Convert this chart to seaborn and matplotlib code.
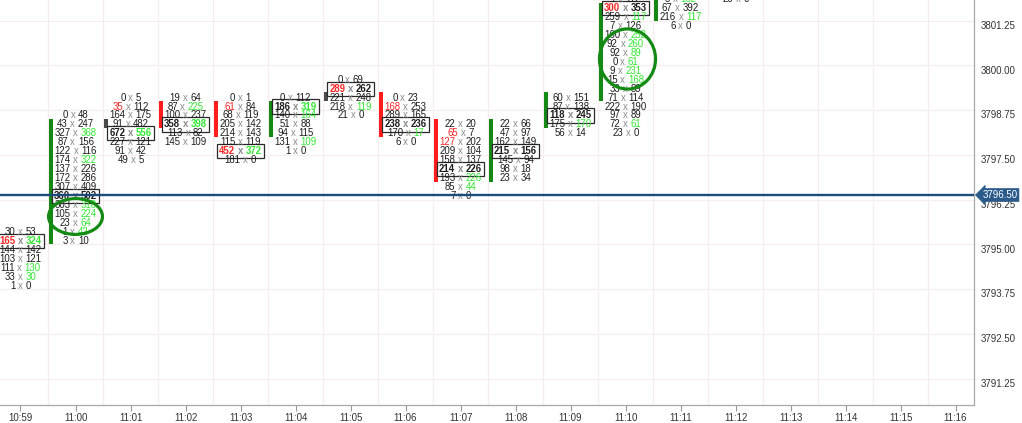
import numpy as np
import matplotlib
matplotlib.use('Agg')
import matplotlib.pyplot as plt
from matplotlib.patches import Ellipse
from matplotlib.font_manager import FontProperties
import seaborn as sns

times = ['10:59', '11:00', '11:01', '11:02', '11:03', '11:04', '11:05', '11:06', '11:07',
         '11:08', '11:09', '11:10', '11:11', '11:12', '11:13', '11:14', '11:15', '11:16']

# footprint cells, top price of each bar then bid / ask volume from the top row down
top_1059 = 3795.50
bid_1059 = [30, 165, 144, 103, 111, 33, 1]
ask_1059 = [53, 324, 142, 121, 130, 30, 0]

top_1100 = 3798.75
bid_1100 = [0, 43, 327, 87, 122, 174, 137, 172, 307, 360, 303, 105, 23, 1, 3]
ask_1100 = [48, 247, 368, 156, 116, 322, 226, 286, 409, 502, 318, 224, 64, 42, 10]

top_1101 = 3799.25
bid_1101 = [0, 35, 164, 91, 672, 227, 91, 49]
ask_1101 = [5, 112, 175, 482, 556, 121, 42, 5]

top_1102 = 3799.25
bid_1102 = [19, 87, 100, 358, 113, 145]
ask_1102 = [64, 225, 237, 398, 82, 109]

top_1103 = 3799.25
bid_1103 = [0, 61, 68, 205, 214, 115, 452, 181]
ask_1103 = [1, 84, 119, 142, 143, 119, 372, 0]

top_1104 = 3799.25
bid_1104 = [0, 186, 140, 51, 94, 131, 1]
ask_1104 = [112, 319, 164, 88, 115, 109, 0]

top_1105 = 3799.75
bid_1105 = [0, 289, 221, 218, 21]
ask_1105 = [69, 262, 248, 119, 0]

top_1106 = 3799.25
bid_1106 = [0, 168, 289, 238, 170, 6]
ask_1106 = [23, 253, 165, 236, 17, 0]

top_1107 = 3798.50
bid_1107 = [22, 65, 127, 209, 158, 214, 193, 85, 7]
ask_1107 = [20, 7, 202, 104, 137, 226, 226, 44, 0]

top_1108 = 3798.50
bid_1108 = [22, 47, 162, 215, 145, 98, 23]
ask_1108 = [66, 97, 149, 156, 94, 18, 34]

top_1109 = 3799.25
bid_1109 = [60, 87, 118, 175, 56]
ask_1109 = [151, 138, 245, 170, 14]

top_1110 = 3802.00
bid_1110 = [4, 300, 259, 7, 160, 92, 92, 0, 9, 15, 33, 71, 222, 97, 72, 23]
ask_1110 = [112, 353, 117, 126, 252, 260, 89, 61, 231, 168, 89, 114, 190, 89, 61, 0]

top_1111 = 3802.00
bid_1111 = [8, 67, 216, 6]
ask_1111 = [162, 392, 117, 0]

top_1112 = 3802.00
bid_1112 = [20]
ask_1112 = [0]

# point of control (boxed row) per bar
poc_price = [3795.25, 3796.50, 3798.25, 3798.50, 3797.75, 3799.00, 3799.50,
             3798.50, 3797.25, 3797.75, 3798.75, 3801.75, np.nan, np.nan]

# candle bodies drawn on the left edge of each column
bar_open = [np.nan, 3795.25, 3798.50, 3799.00, 3799.00, 3798.25, 3799.25,
            3799.25, 3798.50, 3797.00, 3798.50, 3799.25, 3801.50, np.nan]
bar_close = [np.nan, 3798.50, 3798.50, 3798.50, 3798.25, 3799.00, 3799.25,
             3798.25, 3797.00, 3798.50, 3799.25, 3801.75, 3802.50, np.nan]

last_price = 3796.50
price_ticks = [3791.25, 3792.50, 3793.75, 3795.00, 3796.25, 3797.50, 3798.75, 3800.00, 3801.25]

tops = [top_1059, top_1100, top_1101, top_1102, top_1103, top_1104, top_1105,
        top_1106, top_1107, top_1108, top_1109, top_1110, top_1111, top_1112]
bids = [bid_1059, bid_1100, bid_1101, bid_1102, bid_1103, bid_1104, bid_1105,
        bid_1106, bid_1107, bid_1108, bid_1109, bid_1110, bid_1111, bid_1112]
asks = [ask_1059, ask_1100, ask_1101, ask_1102, ask_1103, ask_1104, ask_1105,
        ask_1106, ask_1107, ask_1108, ask_1109, ask_1110, ask_1111, ask_1112]

tick = 0.25
ratio = 2.0

sns.set_theme(style='white')
fonts = ['Liberation Sans Narrow', 'Liberation Sans', 'DejaVu Sans']
plt.rcParams['font.family'] = ['Liberation Sans', 'DejaVu Sans']

RED = '#ff2424'
GREEN = '#30e830'
DARK = '#1c1c1c'
XCOL = '#8c8c8c'
BARGREEN = '#148a14'
BARRED = '#ff1c1c'
GRID = '#f8ecef'
fs = 6.9

fig = plt.figure(figsize=(10.22, 4.23), dpi=100)
ax = fig.add_axes([0, 18 / 423, 974 / 1022, 405 / 423])
ax.set_xlim(-0.3727, 17.336)
ax.set_ylim(3790.635, 3801.948)
renderer = fig.canvas.get_renderer()


def text_w(s, fp):
    w, h, d = renderer.get_text_width_height_descent(s, fp, ismath=False)
    return w * 72 / fig.dpi


for p in price_ticks:
    ax.axhline(p + tick / 2, color=GRID, lw=0.8, zorder=0.5)
for i in range(len(times)):
    ax.axvline(i + 0.5, color=GRID, lw=0.8, zorder=0.5)

# candle bodies
for i, (o, c) in enumerate(zip(bar_open, bar_close)):
    if np.isnan(o):
        continue
    lo, hi = min(o, c), max(o, c)
    col = BARGREEN if c > o else (BARRED if c < o else '#4a4a4a')
    ax.bar(i - 0.5 + 0.01, hi - lo + tick, bottom=lo - tick / 2, width=0.072,
           align='edge', color=col, lw=0, zorder=2)

# footprint numbers
for i in range(len(tops)):
    b_list, a_list = bids[i], asks[i]
    n = len(b_list)
    for k in range(n):
        price = tops[i] - k * tick
        b, a = b_list[k], a_list[k]
        cb, ca = DARK, DARK
        if k + 1 < n and a > 0 and a >= ratio * b_list[k + 1]:
            ca = GREEN
        if k > 0 and b > 0 and b >= ratio * a_list[k - 1]:
            cb = RED
        boxed = (not np.isnan(poc_price[i])) and abs(price - poc_price[i]) < 1e-6
        fp = FontProperties(family=fonts, size=fs, weight='bold' if boxed else 'normal')
        ls, rs = str(b), str(a)
        full = ls + ' x ' + rs
        wl, wr, wt = text_w(ls, fp), text_w(rs, fp), text_w(full, fp)
        x0 = -wt / 2
        kw = dict(xy=(i, price), textcoords='offset points', va='center_baseline',
                  fontproperties=fp, annotation_clip=False, zorder=3)
        ax.annotate(ls, xytext=(x0, 0), ha='left', color=cb, **kw)
        ax.annotate('x', xytext=(x0 + wl + (wt - wl - wr) / 2, 0), ha='center', color=XCOL, **kw)
        ax.annotate(rs, xytext=(x0 + wt, 0), ha='right', color=ca, **kw)
        if boxed:
            ax.annotate(full, xy=(i, price), xytext=(0, 0), textcoords='offset points',
                        va='center_baseline', ha='center', fontproperties=fp, color='none',
                        annotation_clip=False, zorder=2.5,
                        bbox=dict(boxstyle='square,pad=0.22', fc='white', ec='#2a2a2a', lw=0.9))

# last price line
ax.axhline(last_price, color='#1d4c7a', lw=1.7, zorder=4)
ax.annotate(f'{last_price:.2f}', xy=(1.0, last_price), xycoords=('axes fraction', 'data'),
            xytext=(6, 0), textcoords='offset points', ha='left', va='center',
            color='white', fontsize=7, annotation_clip=False, zorder=6,
            bbox=dict(boxstyle='larrow,pad=0.15', fc='#2a5a8a', ec='#2a5a8a', lw=0.5))

# highlight circles
ax.add_patch(Ellipse((1.0, 3795.90), 0.98, 1.0, fill=False, ec=BARGREEN, lw=2.3, zorder=5))
ax.add_patch(Ellipse((11.036, 3800.30), 1.02, 1.68, fill=False, ec=BARGREEN, lw=2.3, zorder=5))

ax.set_xticks(range(len(times)))
ax.set_xticklabels(times)
ax.set_yticks(price_ticks)
ax.set_yticklabels([f'{p:.2f}' for p in price_ticks])
ax.yaxis.tick_right()
ax.tick_params(axis='y', length=0, pad=5, labelsize=7, labelcolor='#333333')
ax.tick_params(axis='x', bottom=True, length=4, width=0.8, color='#999999', pad=1.5,
               labelsize=7, labelcolor='#333333')
sns.despine(ax=ax, left=True, top=True, right=False)
for side in ['bottom', 'right']:
    ax.spines[side].set_color('#a8a8a8')
    ax.spines[side].set_linewidth(0.9)
ax.set_xlabel('')
ax.set_ylabel('')

fig.savefig('out.png', dpi=100)
